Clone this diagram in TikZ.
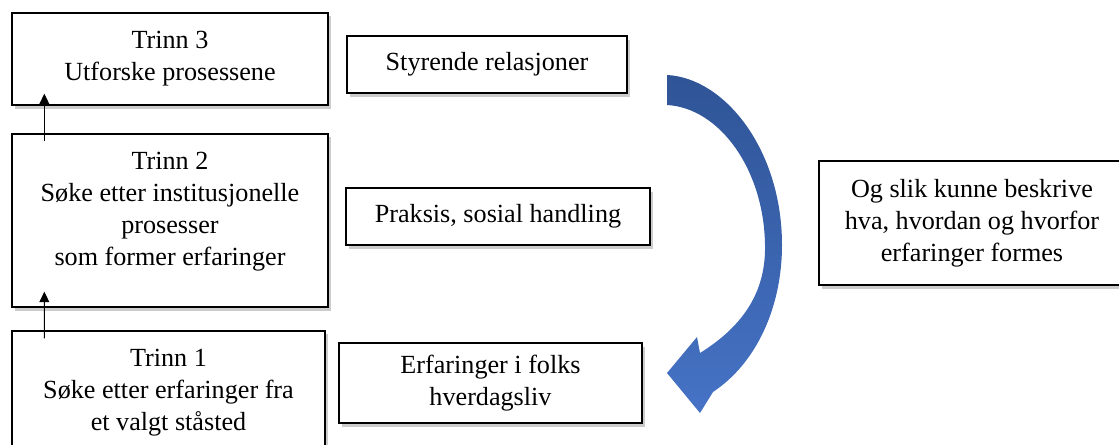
\documentclass[tikz,border=0pt]{standalone}
\usepackage{fontspec}
\setmainfont{Liberation Serif}
\usepackage{tikz}
\usetikzlibrary{shapes.geometric, arrows.meta, shadows}
\definecolor{curvetop}{RGB}{47,84,150}
\definecolor{curvebot}{RGB}{70,115,198}
\tikzstyle{box} = [rectangle, draw=black, line width=0.9pt, fill=white, align=center, text centered, inner sep=2pt, font=\fontsize{18.6}{22.8}\selectfont, drop shadow={shadow xshift=2pt, shadow yshift=-2.5pt, opacity=0.4}]
\tikzstyle{stage} = [box, minimum width=7.9cm]
\tikzstyle{aspect} = [box, minimum height=1.425cm]
\tikzstyle{arrow} = [line width=0.8pt,-{Triangle[length=7.5pt, width=7pt]}]
\begin{document}
\begin{tikzpicture}[x=0.025cm, y=-0.025cm]
\useasboundingbox (0,0) rectangle (1119,445);
\node (t3) [stage, minimum height=2.3cm] at (170,59) {Trinn 3\\Utforske prosessene};
\node (t2) [stage, minimum height=4.325cm, text depth=17pt] at (170,220.5) {Trinn 2\\Søke etter institusjonelle\\prosesser\\som former erfaringer};
\node (t1) [stage, minimum width=7.825cm, minimum height=3.1cm] at (168.5,393) {Trinn 1\\Søke etter erfaringer fra\\et valgt ståsted};
\node (styr) [aspect, minimum width=7cm] at (487,64.5) {Styrende relasjoner};
\node (prak) [aspect, minimum width=7.6cm] at (498,216.5) {Praksis, sosial handling};
\node (erf) [aspect, minimum width=7.575cm, minimum height=2cm] at (490.5,383) {Erfaringer i folks\\hverdagsliv};
\node (og) [box, minimum width=7.65cm, minimum height=3.1cm] at (972,223) {Og slik kunne beskrive\\hva, hvordan og hvorfor\\erfaringer formes};
\draw [arrow] ([xshift=0.825cm, yshift=-0.2cm]t2.north west) -- ([xshift=0.825cm, yshift=0.3cm]t3.south west);
\draw [arrow] ([xshift=0.825cm, yshift=-0.2cm]t1.north west) -- ([xshift=0.825cm, yshift=0.4cm]t2.south west);
% curved arrow
\shade [top color=curvetop, bottom color=curvebot] (667,75) .. controls (725,78) and (782,150) .. (782,245) .. controls (782,305) and (758,362) .. (713,392) -- (700,413) -- (667,373) -- (697,337) -- (700,353) .. controls (745,325) and (766,290) .. (765,245) .. controls (764,170) and (720,108) .. (667,105) -- cycle;
\end{tikzpicture}
\end{document}
